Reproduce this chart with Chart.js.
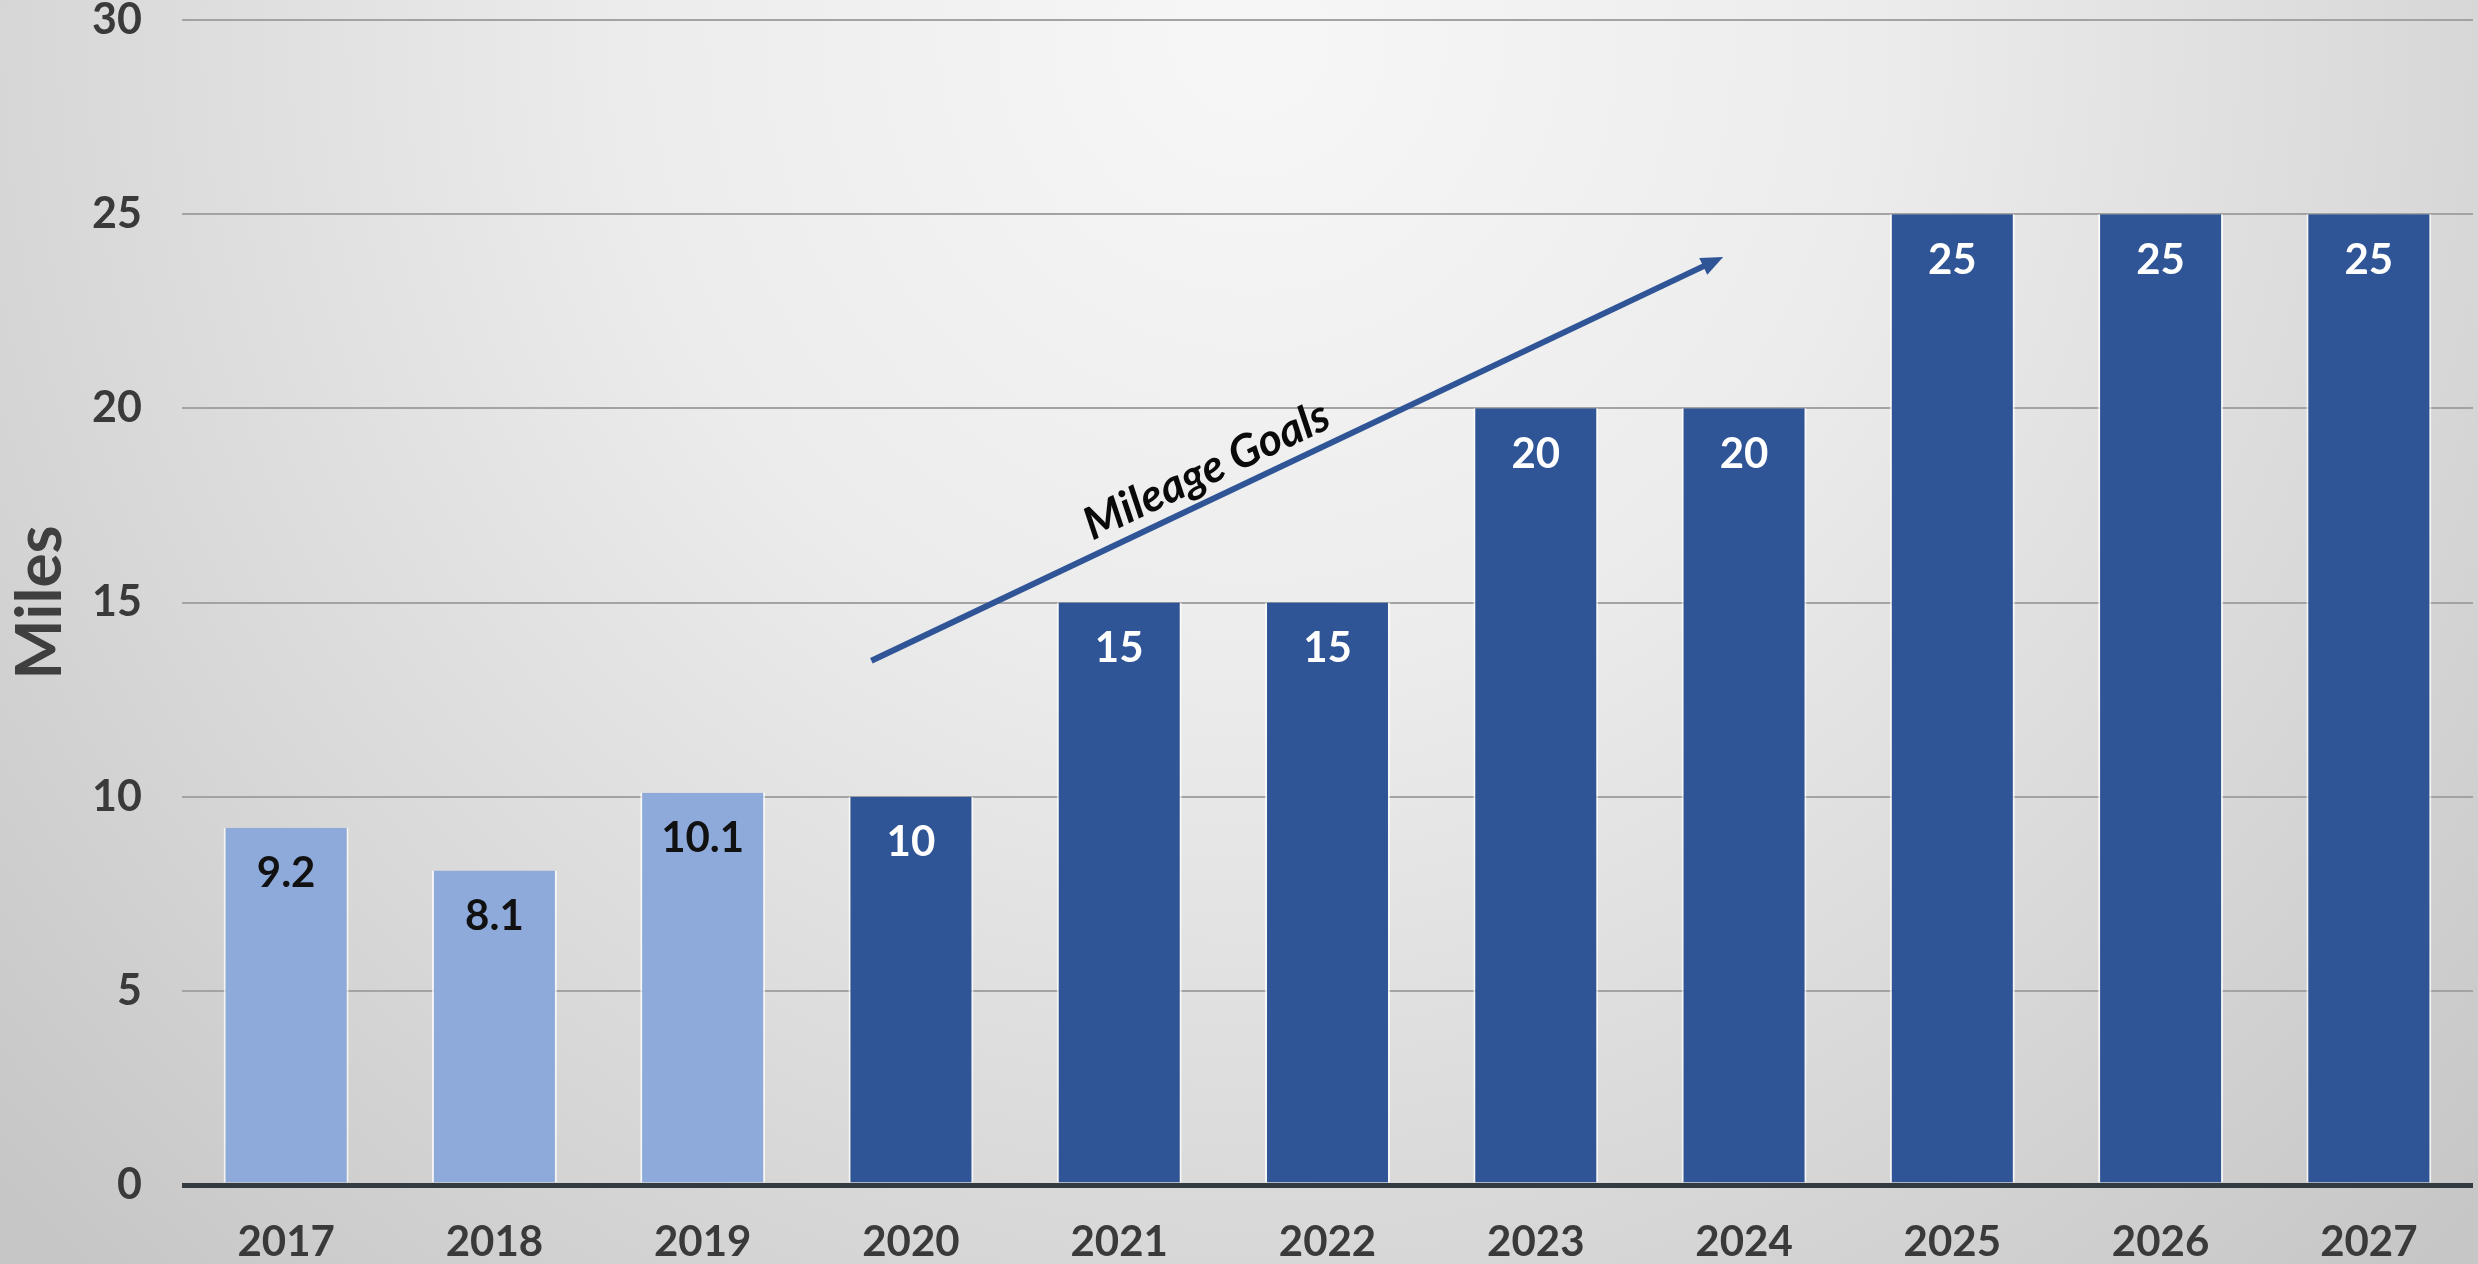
<!DOCTYPE html>
<html>
<head>
<meta charset="utf-8">
<script src="https://cdn.jsdelivr.net/npm/chart.js@4.4.1/dist/chart.umd.min.js"></script>
<style>
  html, body { margin: 0; padding: 0; background: #d8d8d8; }
  #wrap { width: 2478px; height: 1264px; }
</style>
</head>
<body>
<div id="wrap"><canvas id="c" width="2478" height="1264"></canvas></div>
<script>
// ---- data ----
const categories = ['2017','2018','2019','2020','2021','2022','2023','2024','2025','2026','2027'];
const miles = [9.2, 8.1, 10.1, 10, 15, 15, 20, 20, 25, 25, 25];
const labels = ['9.2','8.1','10.1','10','15','15','20','20','25','25','25'];
const isActual = [true, true, true, false, false, false, false, false, false, false, false];
const yTicks = [0, 5, 10, 15, 20, 25, 30];
const yAxisTitle = 'Miles';
const arrowText = 'Mileage Goals';
// arrow annotation in data coordinates: [category index, miles]
const arrowStart = [2.81, 13.5];
const arrowEnd = [6.90, 23.9];
const arrowTextAt = [4.42, 18.4];

const lightBlue = '#8eaadb';
const darkBlue = '#2f5597';
const FONT = 'Lato, "Open Sans", "DejaVu Sans", sans-serif';

const bgPlugin = {
  id: 'bg',
  beforeDraw(chart) {
    const ctx = chart.ctx;
    const w = chart.width, h = chart.height;
    ctx.save();
    const g = ctx.createRadialGradient(1250, 40, 50, 1250, 40, 1700);
    g.addColorStop(0, '#f6f6f6');
    g.addColorStop(0.35, '#ececec');
    g.addColorStop(0.7, '#d8d8d8');
    g.addColorStop(1, '#c6c6c6');
    ctx.fillStyle = g;
    ctx.fillRect(0, 0, w, h);
    ctx.restore();
  }
};

const labelPlugin = {
  id: 'barLabels',
  afterDatasetsDraw(chart) {
    const ctx = chart.ctx;
    const meta = chart.getDatasetMeta(0);
    ctx.save();
    ctx.font = 'bold 42px ' + FONT;
    ctx.textAlign = 'center';
    ctx.textBaseline = 'middle';
    meta.data.forEach((bar, i) => {
      ctx.fillStyle = isActual[i] ? '#111111' : '#ffffff';
      ctx.fillText(labels[i], bar.x, bar.y + 46);
    });
    ctx.restore();
  }
};

const arrowPlugin = {
  id: 'arrow',
  afterDatasetsDraw(chart) {
    const xs = chart.scales.x, ys = chart.scales.y;
    const x1 = xs.getPixelForValue(arrowStart[0]), y1 = ys.getPixelForValue(arrowStart[1]);
    const x2 = xs.getPixelForValue(arrowEnd[0]), y2 = ys.getPixelForValue(arrowEnd[1]);
    const ang = Math.atan2(y2 - y1, x2 - x1);
    const ctx = chart.ctx;
    ctx.save();
    ctx.strokeStyle = darkBlue;
    ctx.fillStyle = darkBlue;
    ctx.lineWidth = 6;
    const headLen = 24;
    ctx.beginPath();
    ctx.moveTo(x1, y1);
    ctx.lineTo(x2 - Math.cos(ang) * headLen * 0.8, y2 - Math.sin(ang) * headLen * 0.8);
    ctx.stroke();
    ctx.beginPath();
    ctx.moveTo(x2, y2);
    ctx.lineTo(x2 - headLen * Math.cos(ang - 0.4), y2 - headLen * Math.sin(ang - 0.4));
    ctx.lineTo(x2 - headLen * Math.cos(ang + 0.4), y2 - headLen * Math.sin(ang + 0.4));
    ctx.closePath();
    ctx.fill();
    // text
    const tx = xs.getPixelForValue(arrowTextAt[0]), ty = ys.getPixelForValue(arrowTextAt[1]);
    ctx.translate(tx, ty);
    ctx.rotate(ang);
    ctx.font = 'italic bold 45px ' + FONT;
    ctx.fillStyle = '#0a0a0a';
    ctx.textAlign = 'center';
    ctx.textBaseline = 'middle';
    ctx.fillText(arrowText, 0, 0);
    ctx.restore();
  }
};

new Chart(document.getElementById('c'), {
  type: 'bar',
  data: {
    labels: categories,
    datasets: [{
      data: miles,
      backgroundColor: isActual.map(a => a ? lightBlue : darkBlue),
      borderColor: 'rgba(255,255,255,0.75)',
      borderWidth: { left: 2, right: 2, top: 0, bottom: 0 },
      borderSkipped: false,
      barPercentage: 0.6,
      categoryPercentage: 1.0
    }]
  },
  options: {
    responsive: false,
    animation: false,
    devicePixelRatio: 1,
    layout: { padding: { left: 0, right: 5, top: 20, bottom: 0 } },
    plugins: { legend: { display: false }, tooltip: { enabled: false }, title: { display: false } },
    scales: {
      x: {
        grid: { display: false, drawTicks: false },
        border: { display: false },
        ticks: { color: '#3a3a3a', font: { family: FONT, size: 42, weight: 'bold' }, padding: 32, maxRotation: 0 },
        afterFit(s) { s.height = 79; s.paddingLeft = 0; s.paddingRight = 0; }
      },
      y: {
        min: 0, max: 30,
        afterBuildTicks(s) { s.ticks = yTicks.map(v => ({ value: v })); },
        grid: {
          drawTicks: false,
          color: ctx => ctx.tick && ctx.tick.value === 0 ? '#333b40' : '#a3a3a3',
          lineWidth: ctx => ctx.tick && ctx.tick.value === 0 ? 5 : 2
        },
        border: { display: false },
        ticks: { color: '#3a3a3a', font: { family: FONT, size: 43, weight: 'bold' }, padding: 40 },
        title: {
          display: true, text: yAxisTitle, color: '#3f3f3f',
          font: { family: FONT, size: 64, weight: 'bold' }, padding: { top: 2, bottom: 0 }
        },
        afterFit(s) { s.width = 182; s.paddingTop = 0; s.paddingBottom = 0; }
      }
    }
  },
  plugins: [bgPlugin, labelPlugin, arrowPlugin]
});
</script>
</body>
</html>
